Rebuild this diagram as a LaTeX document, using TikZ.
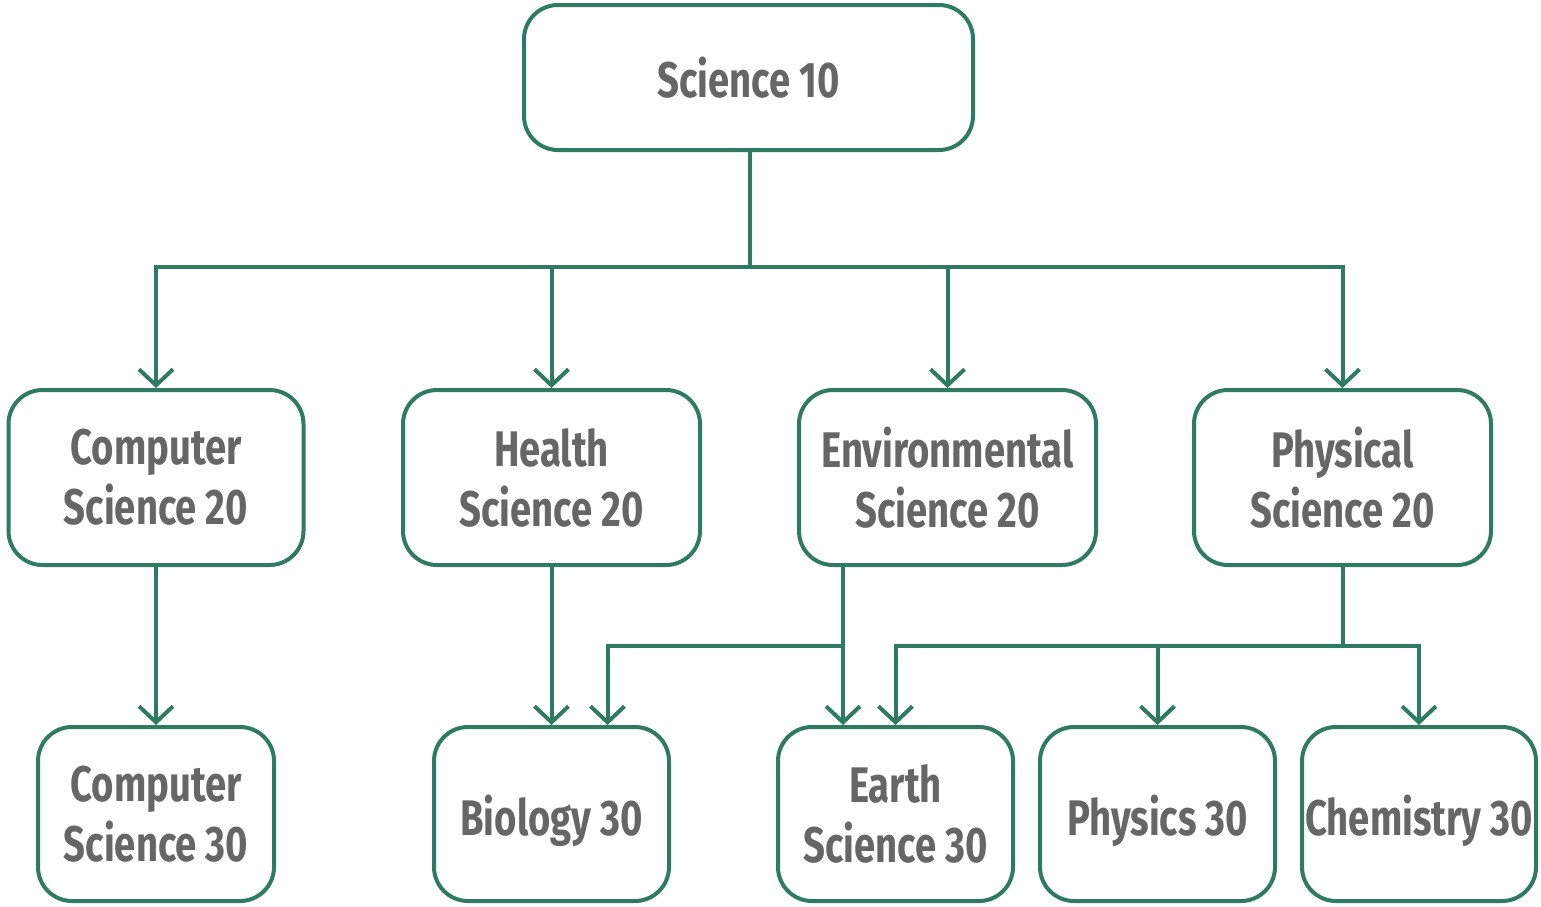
\documentclass[tikz,border=0pt]{standalone}
\usepackage{fontspec}
\newfontfamily\labfont{Fira Sans}[FakeStretch=0.765]
\usetikzlibrary{arrows.meta}
\definecolor{edge}{HTML}{2E7A62}
\definecolor{txt}{HTML}{666666}
\tikzset{
  box/.style={draw=edge, line width=4pt, rounded corners=34pt, fill=white,
    align=center, text=txt, font=\labfont\bfseries\fontsize{50}{60}\selectfont,
    inner sep=0pt, minimum height=175pt},
  lowtext/.style={execute at begin node={\rule{0pt}{54pt}}},
  arr/.style={draw=edge, line width=4pt, -{Straight Barb[length=16pt,width=34pt]}}
}
\begin{document}
\begin{tikzpicture}[x=1pt,y=-1pt]
\useasboundingbox (0,0) rectangle (1541,906);
% top
\node[box, minimum width=449pt, minimum height=145pt] (s10) at (748.5,77.5) {Science 10};
% row 2
\node[box, minimum width=295pt] (cs20) at (156,477.5) {Computer\\Science 20};
\node[box, minimum width=297pt] (hs20) at (551.5,477.5) {Health\\Science 20};
\node[box, minimum width=297pt] (es20) at (947.5,477.5) {Environmental\\Science 20};
\node[box, minimum width=297pt] (ps20) at (1342.5,477.5) {Physical\\Science 20};
% row 3
\node[box, minimum width=236pt, minimum height=174pt] (cs30) at (156,814) {Computer\\Science 30};
\node[box, lowtext, minimum width=235pt, minimum height=174pt] (bio) at (551.5,814) {Biology 30};
\node[box, minimum width=235pt, minimum height=174pt] (earth) at (895.5,814) {Earth\\Science 30};
\node[box, lowtext, minimum width=235pt, minimum height=174pt] (phy) at (1157.5,814) {Physics 30};
\node[box, lowtext, minimum width=234pt, minimum height=174pt] (chem) at (1419,814) {Chemistry 30};
% junctions
\coordinate (bus) at (750,267);
\coordinate (ej) at (843,646);
\coordinate (pj) at (1343,646);
% top tree
\draw[arr] (s10.south -| bus) -- (bus) -| (cs20.north);
\draw[arr] (bus) -| (hs20.north);
\draw[arr] (bus) -| (es20.north);
\draw[arr] (bus) -| (ps20.north);
% row 2 to row 3
\draw[arr] (cs20.south) -- (cs30.north);
\draw[arr] (hs20.south) -- (bio.north);
\draw[arr] (es20.south -| ej) -- (earth.north -| ej);
\draw[arr] (ej) -| ([xshift=56pt]bio.north);
\draw[arr] (ps20.south -| pj) -- (pj) -| (earth.north);
\draw[arr] (pj) -| (phy.north);
\draw[arr] (pj) -| (chem.north);
\end{tikzpicture}
\end{document}
